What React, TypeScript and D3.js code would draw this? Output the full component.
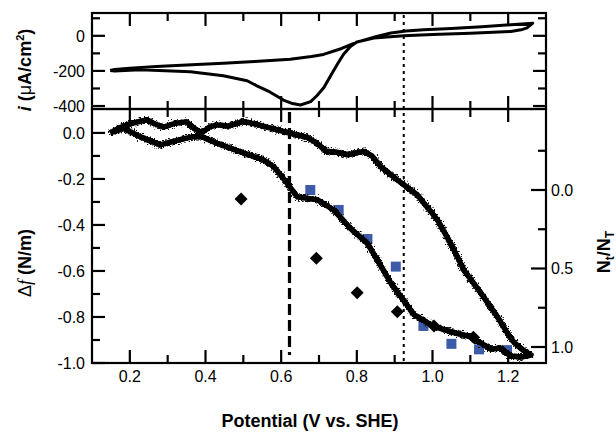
import React from "react";
import * as d3 from "d3";

const width = 616;
const height = 433;

// top panel: cyclic voltammogram (potential in V, current in uA/cm2)
const cvPotential = [
  0.148, 0.16, 0.2, 0.271, 0.35, 0.447, 0.53, 0.624, 0.68, 0.712, 0.76, 0.8, 0.85, 0.89, 0.93, 0.977,
  1.05, 1.13, 1.207, 1.265,
  1.25, 1.234, 1.207, 1.1, 1.0, 0.924, 0.845, 0.8, 0.783, 0.765, 0.75, 0.73, 0.713, 0.695, 0.678,
  0.651, 0.63, 0.606, 0.57, 0.536, 0.51, 0.447, 0.36, 0.227, 0.16, 0.148,
];
const cvCurrent = [
  -198, -192, -185, -175, -166, -156, -147, -133, -118, -106, -72, -36, -5, 16, 27, 34,
  42, 52, 63, 72,
  45, 34, 25, 14, 7, 0, -13, -35, -61, -105, -156, -230, -295, -340, -375,
  -394, -386, -366, -320, -285, -256, -228, -205, -194, -200, -198,
];

// bottom panel: frequency shift (N/m)
const dfPotential = [
  0.148, 0.17, 0.2, 0.245, 0.265, 0.289, 0.32, 0.35, 0.37, 0.39, 0.41, 0.43, 0.46, 0.5, 0.54, 0.59,
  0.642, 0.67, 0.695, 0.72, 0.75, 0.775, 0.818, 0.84, 0.863, 0.907, 0.96, 1.013, 1.048, 1.083, 1.128,
  1.172, 1.198, 1.215, 1.24, 1.26,
  1.234, 1.207, 1.18, 1.154, 1.101, 1.048, 1.004, 0.951, 0.916, 0.89, 0.854, 0.828, 0.783, 0.739,
  0.695, 0.642, 0.616, 0.58, 0.553, 0.5, 0.43, 0.39, 0.365, 0.33, 0.28, 0.227, 0.183, 0.148,
];
const dfShift = [
  0.0, 0.02, 0.04, 0.057, 0.04, 0.025, 0.042, 0.048, 0.02, 0.0, 0.025, 0.035, 0.03, 0.05, 0.035, 0.013,
  -0.009, -0.02, -0.045, -0.08, -0.085, -0.095, -0.08, -0.1, -0.146, -0.204, -0.27, -0.378, -0.48, -0.596,
  -0.696, -0.8, -0.87, -0.91, -0.945, -0.965,
  -0.974, -0.97, -0.935, -0.94, -0.886, -0.864, -0.842, -0.79, -0.71, -0.653, -0.552, -0.48, -0.415,
  -0.335, -0.29, -0.277, -0.219, -0.146, -0.117, -0.087, -0.045, -0.016, -0.017, -0.03, -0.052, -0.016,
  0.02, 0.0,
];

// coverage N_t/N_T (right axis)
const squarePotential = [0.677, 0.752, 0.828, 0.903, 0.976, 1.05, 1.123, 1.197];
const squareCoverage = [0.0, 0.127, 0.312, 0.488, 0.866, 0.98, 1.015, 1.02];
const diamondPotential = [0.494, 0.693, 0.801, 0.907, 1.004, 1.108];
const diamondCoverage = [0.057, 0.435, 0.654, 0.775, 0.866, 0.938];

const dashedPotential = 0.622;
const dottedPotential = 0.924;

const xTicks = [0.2, 0.4, 0.6, 0.8, 1.0, 1.2];
const xTickLabels = ["0.2", "0.4", "0.6", "0.8", "1.0", "1.2"];
const xMinor = [0.3, 0.5, 0.7, 0.9, 1.1];
const cvTicks = [0, -200, -400];
const cvTickLabels = ["0", "-200", "-400"];
const cvMinor = [100, -100, -300];
const dfTicks = [0, -0.2, -0.4, -0.6, -0.8, -1.0];
const dfTickLabels = ["0.0", "-0.2", "-0.4", "-0.6", "-0.8", "-1.0"];
const dfMinor = [-0.1, -0.3, -0.5, -0.7, -0.9];
const covTicks = [0, 0.5, 1.0];
const covTickLabels = ["0.0", "0.5", "1.0"];
const covMinor = [-0.25, 0.25, 0.75];

const left = 92;
const right = 546;
const top1 = 13;
const mid = 109;
const bottom = 363;
const major = 13;
const minor = 8;
const font = "'Liberation Sans', Arial, Helvetica, sans-serif";

const App = () => {
  const x = d3.scaleLinear().domain([0.1, 1.3]).range([left, right]);
  const yCv = d3.scaleLinear().domain([-417, 130]).range([mid, top1]);
  const yDf = d3.scaleLinear().domain([-1.0, 0.104]).range([bottom, mid]);
  const yCov = d3.scaleLinear().domain([-0.516, 1.102]).range([mid, bottom]);

  const cvLine = d3
    .line<number>()
    .x((d, i) => x(cvPotential[i]))
    .y((d) => yCv(d));
  const dfLine = d3
    .line<number>()
    .x((d, i) => x(dfPotential[i]))
    .y((d) => yDf(d));

  const vTick = (v: number, y0: number, len: number, key: string) => (
    <line key={key} x1={x(v)} x2={x(v)} y1={y0} y2={y0 + len} />
  );
  const hTick = (y: number, x0: number, len: number, key: string) => (
    <line key={key} x1={x0} x2={x0 + len} y1={y} y2={y} />
  );

  return (
    <svg width={width} height={height} style={{ position: "absolute", left: 0, top: 0 }}>
      <defs>
        {/* rough, noisy look of the measured trace: solid core plus a ragged fringe */}
        <filter id="hairy" x="-5%" y="-5%" width="110%" height="110%">
          <feTurbulence type="fractalNoise" baseFrequency="0.7" numOctaves={1} seed={3} result="n" />
          <feDisplacementMap
            in="SourceGraphic"
            in2="n"
            scale={9}
            xChannelSelector="R"
            yChannelSelector="G"
            result="d"
          />
          <feMerge>
            <feMergeNode in="d" />
            <feMergeNode in="SourceGraphic" />
          </feMerge>
        </filter>
      </defs>
      <rect width={width} height={height} fill="white" />

      {/* reference lines */}
      <line
        x1={x(dottedPotential)}
        x2={x(dottedPotential)}
        y1={top1 + 2}
        y2={bottom}
        stroke="black"
        strokeWidth={2}
        strokeDasharray="3,4"
      />
      <line
        x1={x(dashedPotential)}
        x2={x(dashedPotential)}
        y1={112}
        y2={355}
        stroke="black"
        strokeWidth={3.2}
        strokeDasharray="11,5"
      />

      {/* CV curve */}
      <path d={cvLine(cvCurrent) || ""} fill="none" stroke="black" strokeWidth={3} strokeLinejoin="round" />

      {/* markers */}
      {squarePotential.map((v, i) => (
        <rect
          key={"s" + i}
          x={x(v) - 5}
          y={yCov(squareCoverage[i]) - 5}
          width={10}
          height={10}
          fill="#3d5ba9"
        />
      ))}
      {diamondPotential.map((v, i) => {
        const cx = x(v);
        const cy = yCov(diamondCoverage[i]);
        const r = 6.5;
        return (
          <path
            key={"d" + i}
            d={`M${cx},${cy - r}L${cx + r},${cy}L${cx},${cy + r}L${cx - r},${cy}Z`}
            fill="black"
          />
        );
      })}

      {/* frequency shift curve */}
      <path
        d={dfLine(dfShift) || ""}
        fill="none"
        stroke="black"
        strokeWidth={5.5}
        strokeLinejoin="round"
        filter="url(#hairy)"
      />

      {/* frames and ticks */}
      <g stroke="black" strokeWidth={2.2} fill="none">
        <rect x={left} y={top1} width={right - left} height={mid - top1} />
        <rect x={left} y={mid} width={right - left} height={bottom - mid} />
        {xTicks.map((v, i) => vTick(v, top1, major, "a" + i))}
        {xTicks.map((v, i) => vTick(v, mid, -major, "b" + i))}
        {xTicks.map((v, i) => vTick(v, mid, major, "c" + i))}
        {xTicks.map((v, i) => vTick(v, bottom, -major, "d" + i))}
        {xMinor.map((v, i) => vTick(v, top1, minor, "e" + i))}
        {xMinor.map((v, i) => vTick(v, mid, -minor, "f" + i))}
        {xMinor.map((v, i) => vTick(v, mid, minor, "g" + i))}
        {xMinor.map((v, i) => vTick(v, bottom, -minor, "h" + i))}
        {cvTicks.map((v, i) => hTick(yCv(v), left, major, "i" + i))}
        {cvTicks.map((v, i) => hTick(yCv(v), right, -major, "j" + i))}
        {cvMinor.map((v, i) => hTick(yCv(v), left, minor, "k" + i))}
        {cvMinor.map((v, i) => hTick(yCv(v), right, -minor, "l" + i))}
        {dfTicks.map((v, i) => hTick(yDf(v), left, major, "m" + i))}
        {dfMinor.map((v, i) => hTick(yDf(v), left, minor, "n" + i))}
        {covTicks.map((v, i) => hTick(yCov(v), right, -major - 2, "o" + i))}
        {covMinor.map((v, i) => hTick(yCov(v), right, -minor, "p" + i))}
      </g>

      {/* tick labels */}
      <g fontFamily={font} fontSize={16} fill="black">
        {xTicks.map((v, i) => (
          <text key={"xl" + i} x={x(v)} y={382} textAnchor="middle">
            {xTickLabels[i]}
          </text>
        ))}
        {cvTicks.map((v, i) => (
          <text key={"cl" + i} x={85} y={yCv(v)} dy="0.36em" textAnchor="end">
            {cvTickLabels[i]}
          </text>
        ))}
        {dfTicks.map((v, i) => (
          <text key={"dl" + i} x={85} y={yDf(v)} dy="0.36em" textAnchor="end">
            {dfTickLabels[i]}
          </text>
        ))}
        {covTicks.map((v, i) => (
          <text key={"rl" + i} x={551} y={yCov(v)} dy="0.36em" textAnchor="start">
            {covTickLabels[i]}
          </text>
        ))}
      </g>

      {/* axis titles */}
      <text x={310} y={427} textAnchor="middle" fontFamily={font} fontSize={18} fontWeight="bold">
        Potential (V vs. SHE)
      </text>
      <text
        transform="translate(31,263) rotate(-90)"
        textAnchor="middle"
        fontFamily={font}
        fontSize={18}
      >
        <tspan>Δ</tspan>
        <tspan fontFamily="'Liberation Serif', 'Times New Roman', serif" fontStyle="italic">
          f
        </tspan>
        <tspan fontWeight="bold"> (N/m)</tspan>
      </text>
      <text
        transform="translate(31,70) rotate(-90)"
        textAnchor="middle"
        fontFamily={font}
        fontSize={18}
        fontWeight="bold"
      >
        <tspan fontStyle="italic">i</tspan>
        <tspan> (</tspan>
        <tspan fontWeight="normal">μ</tspan>
        <tspan>A/cm</tspan>
        <tspan fontSize={11} dy={-7}>
          2
        </tspan>
        <tspan dy={7}>)</tspan>
      </text>
      <text
        transform="translate(610,252) rotate(-90)"
        textAnchor="middle"
        fontFamily={font}
        fontSize={18}
        fontWeight="bold"
      >
        <tspan>N</tspan>
        <tspan fontSize={12} dy={4}>
          t
        </tspan>
        <tspan dy={-4}>/N</tspan>
        <tspan fontSize={12} dy={4}>
          T
        </tspan>
      </text>
    </svg>
  );
};

export default App;
